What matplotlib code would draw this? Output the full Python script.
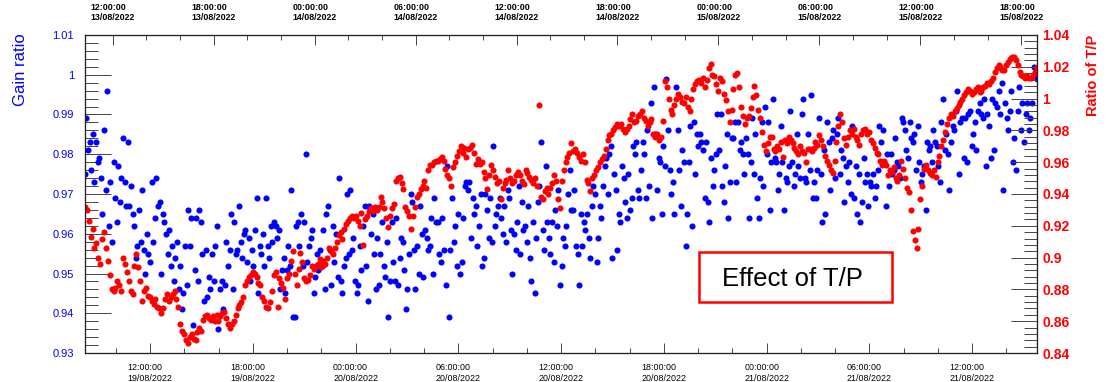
import matplotlib.pyplot as plt
import matplotlib.dates as mdates
from matplotlib.patches import Rectangle
from matplotlib.ticker import AutoMinorLocator
import numpy as np
import pandas as pd

plt.rcParams['font.family'] = ['Liberation Sans', 'DejaVu Sans']

BLUE = '#0000ff'
RED = '#ff0000'

# gain ratio, in time order (left axis)
gain = [
    0.975, 0.989, 0.981, 0.983, 0.976, 0.985, 0.973, 0.983, 0.978, 0.979, 0.974, 0.965,
    0.986, 0.971, 0.996, 0.962, 0.973, 0.958, 0.978, 0.969, 0.963, 0.977, 0.968, 0.974,
    0.984, 0.973, 0.967, 0.983, 0.967, 0.972, 0.965, 0.962, 0.954, 0.957, 0.966, 0.958,
    0.971, 0.956, 0.950, 0.960, 0.955, 0.953, 0.973, 0.958, 0.964, 0.974, 0.967, 0.968,
    0.950, 0.965, 0.963, 0.960, 0.955, 0.961, 0.952, 0.957, 0.948, 0.954, 0.958, 0.946,
    0.952, 0.941, 0.945, 0.957, 0.947, 0.966, 0.957, 0.964, 0.937, 0.951, 0.964, 0.948,
    0.966, 0.963, 0.955, 0.943, 0.956, 0.944, 0.949, 0.946, 0.955, 0.948, 0.957, 0.962,
    0.936, 0.946, 0.948, 0.941, 0.947, 0.958, 0.952, 0.956, 0.965, 0.946, 0.963, 0.955,
    0.956, 0.967, 0.958, 0.954, 0.960, 0.961, 0.953, 0.959, 0.948, 0.956, 0.952, 0.961,
    0.969, 0.945, 0.957, 0.955, 0.960, 0.952, 0.969, 0.957, 0.954, 0.962, 0.958, 0.963,
    0.962, 0.959, 0.961, 0.946, 0.951, 0.954, 0.945, 0.951, 0.957, 0.952, 0.971, 0.939,
    0.939, 0.962, 0.963, 0.957, 0.965, 0.952, 0.963, 0.980, 0.953, 0.957, 0.959, 0.961,
    0.945, 0.949, 0.955, 0.951, 0.956, 0.952, 0.961, 0.946, 0.965, 0.967, 0.956, 0.947,
    0.962, 0.953, 0.960, 0.949, 0.974, 0.948, 0.945, 0.952, 0.954, 0.970, 0.955, 0.971,
    0.956, 0.959, 0.948, 0.945, 0.947, 0.957, 0.951, 0.962, 0.967, 0.952, 0.943, 0.967,
    0.960, 0.965, 0.955, 0.946, 0.959, 0.947, 0.955, 0.963, 0.952, 0.949, 0.958, 0.939,
    0.948, 0.963, 0.953, 0.948, 0.964, 0.947, 0.954, 0.959, 0.958, 0.951, 0.941, 0.946,
    0.955, 0.970, 0.968, 0.956, 0.946, 0.957, 0.950, 0.967, 0.960, 0.949, 0.961, 0.959,
    0.956, 0.957, 0.964, 0.950, 0.969, 0.963, 0.963, 0.955, 0.953, 0.964, 0.956, 0.947,
    0.977, 0.939, 0.956, 0.969, 0.958, 0.962, 0.952, 0.965, 0.950, 0.953, 0.964, 0.972,
    0.973, 0.971, 0.973, 0.959, 0.969, 0.965, 0.967, 0.957, 0.962, 0.970, 0.952, 0.954,
    0.970, 0.966, 0.959, 0.969, 0.958, 0.982, 0.962, 0.965, 0.967, 0.969, 0.964, 0.960,
    0.967, 0.958, 0.971, 0.969, 0.961, 0.950, 0.960, 0.956, 0.963, 0.972, 0.955, 0.968,
    0.961, 0.962, 0.958, 0.967, 0.954, 0.948, 0.963, 0.945, 0.959, 0.968, 0.972, 0.983,
    0.961, 0.956, 0.977, 0.963, 0.959, 0.955, 0.963, 0.953, 0.966, 0.962, 0.971, 0.947,
    0.952, 0.959, 0.957, 0.962, 0.970, 0.976, 0.966, 0.966, 0.971, 0.957, 0.955, 0.947,
    0.965, 0.957, 0.963, 0.961, 0.965, 0.959, 0.954, 0.967, 0.972, 0.970, 0.953, 0.959,
    0.967, 0.964, 0.972, 0.977, 0.979, 0.970, 0.980, 0.982, 0.954, 0.975, 0.971, 0.956,
    0.965, 0.963, 0.977, 0.974, 0.968, 0.964, 0.975, 0.966, 0.969, 0.982, 0.980, 0.983,
    0.971, 0.969, 0.976, 0.983, 0.980, 0.969, 0.986, 0.972, 0.993, 0.964, 0.997, 0.985,
    0.971, 0.979, 0.978, 0.965, 0.982, 0.977, 0.999, 0.986, 0.976, 0.970, 0.973, 0.965,
    0.997, 0.986, 0.976, 0.967, 0.981, 0.978, 0.957, 0.965, 0.978, 0.987, 0.962, 0.988,
    0.975, 0.985, 0.982, 0.985, 0.983, 0.981, 0.969, 0.983, 0.968, 0.963, 0.979, 0.972,
    0.976, 0.980, 0.990, 0.981, 0.990, 0.972, 0.968, 0.977, 0.985, 0.964, 0.973, 0.984,
    0.984, 0.988, 0.973, 0.988, 0.981, 0.983, 0.980, 0.975, 0.984, 0.980, 0.964, 0.978,
    0.989, 0.975, 0.985, 0.969, 0.964, 0.974, 0.988, 0.972, 0.992, 0.980, 0.988, 0.966,
    0.978, 0.994, 0.979, 0.978, 0.971, 0.975, 0.987, 0.978, 0.966, 0.974, 0.973, 0.977,
    0.991, 0.978, 0.972, 0.975, 0.985, 0.977, 0.974, 0.990, 0.994, 0.974, 0.973, 0.985,
    0.976, 0.995, 0.969, 0.973, 0.969, 0.976, 0.989, 0.975, 0.963, 0.981, 0.965, 0.988,
    0.983, 0.971, 0.984, 0.986, 0.974, 0.985, 0.989, 0.975, 0.981, 0.979, 0.968, 0.977,
    0.973, 0.978, 0.970, 0.987, 0.969, 0.977, 0.965, 0.975, 0.963, 0.968, 0.979, 0.973,
    0.975, 0.967, 0.973, 0.972, 0.975, 0.969, 0.972, 0.976, 0.987, 0.983, 0.986, 0.978,
    0.967, 0.980, 0.972, 0.980, 0.975, 0.976, 0.984, 0.978, 0.977, 0.974, 0.989, 0.988,
    0.986, 0.981, 0.979, 0.988, 0.984, 0.983, 0.985, 0.976, 0.987, 0.978, 0.973, 0.975,
    0.977, 0.966, 0.983, 0.981, 0.982, 0.978, 0.986, 0.983, 0.982, 0.977, 0.973, 0.988,
    0.994, 0.981, 0.985, 0.980, 0.971, 0.983, 0.987, 0.986, 0.991, 0.996, 0.975, 0.988,
    0.989, 0.979, 0.989, 0.978, 0.990, 0.991, 0.982, 0.985, 0.988, 0.981, 0.991, 0.993,
    0.990, 0.989, 0.994, 0.977, 0.990, 0.987, 0.979, 0.994, 0.981, 0.993, 0.992, 0.996,
    0.990, 0.998, 0.971, 0.993, 0.989, 0.986, 0.991, 0.996, 0.978, 0.984, 0.976, 0.991,
    0.997, 0.986, 0.993, 0.983, 0.990, 0.993, 0.986, 0.989, 0.993, 1.002, 1.000, 0.999,
]

# temperature/pressure ratio, in time order (right axis)
tp_ratio = [
    0.932, 0.930, 0.923, 0.913, 0.918, 0.906, 0.909, 0.900, 0.896, 0.912,
    0.916, 0.906, 0.898, 0.889, 0.880, 0.879, 0.881, 0.885, 0.883, 0.879,
    0.900, 0.896, 0.891, 0.885, 0.879, 0.877, 0.895, 0.902, 0.894, 0.885,
    0.873, 0.879, 0.881, 0.876, 0.875, 0.873, 0.871, 0.874, 0.869, 0.868,
    0.865, 0.868, 0.874, 0.877, 0.873, 0.875, 0.877, 0.879, 0.874, 0.869,
    0.858, 0.854, 0.852, 0.848, 0.846, 0.850, 0.852, 0.849, 0.848, 0.853,
    0.856, 0.854, 0.861, 0.863, 0.864, 0.862, 0.861, 0.863, 0.860, 0.864,
    0.860, 0.863, 0.865, 0.866, 0.862, 0.858, 0.856, 0.858, 0.860, 0.864,
    0.868, 0.870, 0.872, 0.875, 0.883, 0.885, 0.888, 0.889, 0.891, 0.890,
    0.888, 0.884, 0.883, 0.875, 0.873, 0.869, 0.868, 0.872, 0.879, 0.889,
    0.891, 0.869, 0.887, 0.884, 0.881, 0.874, 0.887, 0.890, 0.898, 0.904,
    0.890, 0.883, 0.893, 0.903, 0.897, 0.887, 0.885, 0.886, 0.889, 0.895,
    0.893, 0.895, 0.896, 0.899, 0.894, 0.898, 0.896, 0.900, 0.906, 0.904,
    0.902, 0.906, 0.910, 0.914, 0.916, 0.912, 0.918, 0.921, 0.923, 0.925,
    0.926, 0.925, 0.926, 0.923, 0.920, 0.928, 0.908, 0.924, 0.926, 0.929,
    0.931, 0.929, 0.932, 0.930, 0.932, 0.938, 0.935, 0.931, 0.925, 0.919,
    0.926, 0.931, 0.934, 0.948, 0.950, 0.951, 0.947, 0.943, 0.932, 0.929,
    0.926, 0.918, 0.926, 0.932, 0.938, 0.940, 0.943, 0.945, 0.948, 0.944,
    0.955, 0.958, 0.958, 0.960, 0.961, 0.961, 0.962, 0.963, 0.961, 0.956,
    0.952, 0.950, 0.945, 0.957, 0.960, 0.964, 0.967, 0.970, 0.966, 0.969,
    0.963, 0.968, 0.969, 0.971, 0.966, 0.959, 0.962, 0.959, 0.960, 0.954,
    0.950, 0.943, 0.952, 0.958, 0.955, 0.951, 0.947, 0.948, 0.937, 0.944,
    0.947, 0.949, 0.955, 0.950, 0.947, 0.948, 0.952, 0.954, 0.952, 0.948,
    0.946, 0.955, 0.953, 0.951, 0.949, 0.947, 0.950, 0.945, 0.996, 0.938,
    0.937, 0.942, 0.944, 0.940, 0.944, 0.947, 0.952, 0.948, 0.937, 0.931,
    0.948, 0.955, 0.960, 0.963, 0.966, 0.972, 0.967, 0.968, 0.966, 0.963,
    0.961, 0.965, 0.960, 0.949, 0.947, 0.942, 0.950, 0.952, 0.955, 0.957,
    0.960, 0.962, 0.964, 0.968, 0.974, 0.977, 0.978, 0.980, 0.982, 0.984,
    0.983, 0.984, 0.981, 0.979, 0.981, 0.983, 0.987, 0.990, 0.985, 0.986,
    0.989, 0.990, 0.992, 0.988, 0.986, 0.983, 0.985, 0.987, 0.978, 0.976,
    0.978, 0.974, 0.976, 0.986, 1.011, 1.007, 1.000, 0.993, 0.990, 0.996,
    1.000, 1.003, 1.001, 0.998, 0.997, 1.001, 0.995, 0.992, 1.000, 1.006,
    1.009, 1.011, 1.012, 1.010, 1.013, 1.007, 1.012, 1.019, 1.022, 1.015,
    1.014, 1.009, 1.005, 1.013, 1.011, 1.003, 0.999, 0.992, 0.985, 0.993,
    1.006, 1.015, 1.016, 1.007, 0.995, 0.989, 0.984, 0.988, 0.989, 0.994,
    1.001, 1.008, 1.002, 0.993, 0.988, 0.979, 0.971, 0.967, 0.972, 0.976,
    0.976, 0.968, 0.967, 0.970, 0.968, 0.973, 0.963, 0.974, 0.972, 0.976,
    0.974, 0.972, 0.969, 0.967, 0.965, 0.970, 0.967, 0.966, 0.960, 0.968,
    0.968, 0.967, 0.969, 0.973, 0.971, 0.977, 0.974, 0.970, 0.964, 0.961,
    0.958, 0.955, 0.953, 0.961, 0.973, 0.983, 0.990, 0.985, 0.975, 0.971,
    0.976, 0.980, 0.978, 0.981, 0.976, 0.974, 0.971, 0.978, 0.980, 0.981,
    0.978, 0.979, 0.974, 0.972, 0.969, 0.966, 0.965, 0.961, 0.958, 0.961,
    0.958, 0.952, 0.955, 0.954, 0.957, 0.950, 0.948, 0.952, 0.961, 0.956,
    0.950, 0.944, 0.941, 0.930, 0.917, 0.911, 0.906, 0.918, 0.937, 0.945,
    0.956, 0.958, 0.955, 0.953, 0.952, 0.955, 0.951, 0.960, 0.964, 0.970,
    0.974, 0.979, 0.984, 0.988, 0.990, 0.989, 0.992, 0.994, 0.996, 0.998,
    1.000, 1.002, 1.004, 1.006, 1.005, 1.003, 1.004, 1.006, 1.007, 1.004,
    1.005, 1.007, 1.008, 1.010, 1.009, 1.011, 1.013, 1.017, 1.019, 1.021,
    1.020, 1.018, 1.018, 1.021, 1.023, 1.025, 1.026, 1.026, 1.024, 1.021,
    1.017, 1.015, 1.014, 1.013, 1.014, 1.013, 1.013, 1.015, 1.017, 1.020,
]

# measurement period (bottom axis) and the period on the top axis
t_start, t_end = pd.Timestamp('2022-08-19 08:12'), pd.Timestamp('2022-08-21 15:46')
bottom_span = (pd.Timestamp('2022-08-19 08:11'), pd.Timestamp('2022-08-21 15:47'))
top_span = (pd.Timestamp('2022-08-13 10:20'), pd.Timestamp('2022-08-15 18:56'))

gain_t = pd.date_range(t_start, t_end, periods=len(gain))
tp_t = pd.date_range(t_start, t_end, periods=len(tp_ratio))

gain_ticks = np.round(np.arange(0.93, 1.0101, 0.01), 2)
tp_ticks = np.round(np.arange(0.84, 1.0401, 0.02), 2)


def time_ticks(axis, span, **label_kw):
    first = span[0].ceil('6h')
    major = pd.date_range(first, span[1], freq='6h')
    minor = pd.date_range(span[0].ceil('2h'), span[1], freq='2h')
    labels = [t.strftime('%H:%M:%S\n%d/%m/%Y') for t in major]
    axis.set_xticks(mdates.date2num(major), labels, multialignment='left', **label_kw)
    axis.set_xticks(mdates.date2num(minor), minor=True)


fig = plt.figure(figsize=(11.09, 3.82), dpi=100)
ax = fig.add_axes([0.0763, 0.0759, 0.8588, 0.8325])
ax.plot(gain_t, gain, 'o', ls='none', color=BLUE, ms=4.4, mew=0)
ax.set_xlim(mdates.date2num(bottom_span[0]), mdates.date2num(bottom_span[1]))
ax.set_ylim(0.93, 1.01)
ax.set_yticks(gain_ticks, [f'{v:g}' for v in gain_ticks])
ax.yaxis.set_minor_locator(AutoMinorLocator(5))
time_ticks(ax, bottom_span, fontsize=6.4)

ax_r = ax.twinx()
ax_r.plot(tp_t, tp_ratio, 'o', ls='none', color=RED, ms=4.4, mew=0)
ax_r.set_ylim(0.84, 1.04)
ax_r.set_yticks(tp_ticks, [f'{v:g}' for v in tp_ticks])
ax_r.yaxis.set_minor_locator(AutoMinorLocator(5))

ax_top = ax.twiny()
ax_top.set_xlim(mdates.date2num(top_span[0]), mdates.date2num(top_span[1]))
time_ticks(ax_top, top_span, fontsize=6.4, fontweight='bold')

frame = '#222222'
for a in (ax, ax_r, ax_top):
    for s in a.spines.values():
        s.set_color(frame)
        s.set_linewidth(0.8)

ax.tick_params(axis='y', which='major', direction='in', length=19, width=0.7,
               color='#444444', labelcolor=BLUE, labelsize=8, pad=7.5)
ax.tick_params(axis='y', which='minor', direction='in', length=9.5, width=0.7, color='#444444')
ax.tick_params(axis='x', which='major', direction='in', length=7, width=0.7,
               color='#444444', pad=7.5)
ax.tick_params(axis='x', which='minor', direction='in', length=3.6, width=0.7, color='#444444')

ax_r.tick_params(axis='y', which='major', direction='in', length=19, width=0.7,
                 color='#444444', labelcolor=RED, labelsize=10, pad=4)
ax_r.tick_params(axis='y', which='minor', direction='in', length=9.5, width=0.7, color='#444444')
for lbl in ax_r.get_yticklabels():
    lbl.set_fontweight('bold')

ax_top.tick_params(axis='x', which='major', direction='in', length=7, width=0.7,
                   color='#444444', pad=9)
ax_top.tick_params(axis='x', which='minor', direction='in', length=3.3, width=0.7, color='#444444')

fig.text(21 / 1109, 1 - 33 / 382, 'Gain ratio', rotation=90, va='top', ha='center',
         color=BLUE, fontsize=12)
fig.text(1093 / 1109, 1 - 35 / 382, 'Ratio of T/P', rotation=90, va='top', ha='center',
         color=RED, fontsize=10.5, fontweight='bold')

# labelled box on top of the points
box = Rectangle((699 / 1109, 1 - 302 / 382), 193 / 1109, 50 / 382, transform=fig.transFigure,
                facecolor='white', edgecolor=RED, linewidth=1.8, zorder=10)
fig.patches.append(box)
fig.text(792 / 1109, 1 - 286.5 / 382, 'Effect of T/P', ha='center', va='baseline',
         fontsize=18.5, color='black', zorder=11)

fig.savefig('out.png', dpi=100)
